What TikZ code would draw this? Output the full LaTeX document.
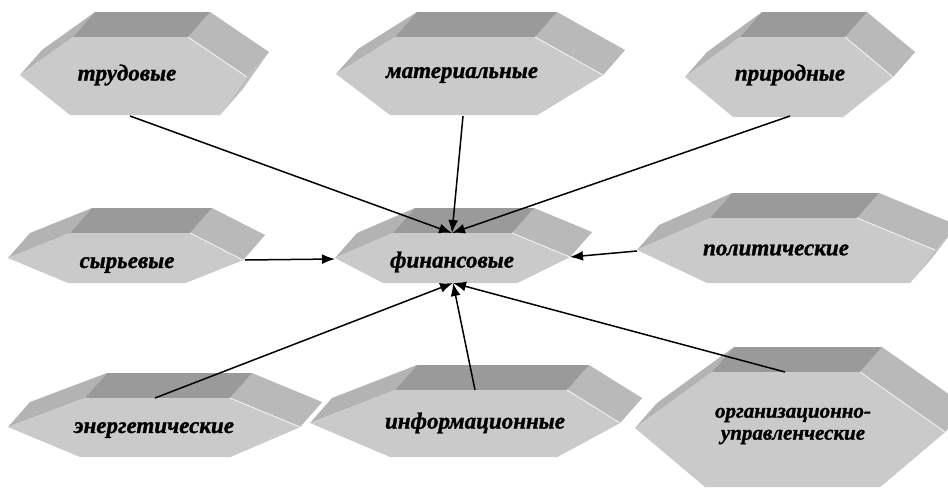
\documentclass[tikz,border=0pt]{standalone}
\usepackage{fontspec}
\setmainfont{Liberation Serif}[BoldItalicFeatures={FakeBold=1.2}]
\usetikzlibrary{calc,arrows.meta}

\definecolor{topgray}{HTML}{9A9A9A}
\definecolor{rightgray}{HTML}{B9B9B9}
\definecolor{leftgray}{HTML}{B3B3B3}
\definecolor{lowgray}{HTML}{BEBEBE}
\definecolor{frontgray}{HTML}{CACACA}

% hexagonal block: front points L, TL, TR, R, BR, BL
\newcommand\hexprism[6]{%
  \coordinate (L) at (#1); \coordinate (TL) at (#2); \coordinate (TR) at (#3);
  \coordinate (R) at (#4); \coordinate (BR) at (#5); \coordinate (BL) at (#6);
  \fill[leftgray] (L) -- (TL) -- ++(22,-25) -- ($(L)+(22,-25)$) -- cycle;
  \fill[lowgray] (R) -- (BR) -- ++(22,-25) -- ($(R)+(22,-25)$) -- cycle;
  \fill[rightgray] (TR) -- (R) -- ++(22,-25) -- ($(TR)+(22,-25)$) -- cycle;
  \fill[topgray] (TL) -- (TR) -- ++(22,-25) -- ($(TL)+(22,-25)$) -- cycle;
  \fill[frontgray] (L) -- (TL) -- (TR) -- (R) -- (BR) -- (BL) -- cycle;
  \draw[white!85!frontgray, line width=0.8pt] (TR) -- (R);
}

\begin{document}
\begin{tikzpicture}[x=1pt,y=-1pt,
    label/.style={font=\bfseries\itshape\fontsize{23}{22}\selectfont, align=center, inner sep=0pt},
    link/.style={-{Latex[length=13pt,width=10pt]}, line width=1.5pt}]
  \useasboundingbox (0,0) rectangle (948,488);

  \hexprism{20,75}{73,37}{188,37}{247,77}{220,115}{70,115}
  \node[label] (trud) at (127,75) {трудовые};
  \hexprism{336,74}{395,37}{535,37}{603,75}{537,115}{390,115}
  \node[label] (mat) at (462,75) {материальные};
  \hexprism{685,77}{740,37}{845,37}{893,77}{843,117}{733,117}
  \node[label] (prir) at (790,75) {природные};

  \hexprism{8,258}{70,233}{190,233}{243,260}{185,283}{68,283}
  \node[label] (syr) at (127,265) {сырьевые};
  \hexprism{335,258}{393,233}{512,233}{570,257}{517,283}{383,283}
  \node[label] (fin) at (452,262) {финансовые};
  \hexprism{637,250}{710,218}{857,218}{935,250}{910,283}{707,283}
  \node[label] (pol) at (776,250) {политические};

  \hexprism{8,427}{85,398}{230,398}{300,427}{230,457}{80,457}
  \node[label] (energ) at (154,430) {энергетические};
  \hexprism{310,423}{395,390}{567,390}{620,423}{557,457}{390,457}
  \node[label] (inf) at (475,423) {информационные};
  \hexprism{635,428}{712,372}{860,372}{945,432}{880,487}{705,487}
  \node[label, font=\bfseries\itshape\fontsize{21}{22}\selectfont] (org) at (793,426) {организационно-\\управленческие};

  \coordinate (fin-top) at (452,233);
  \coordinate (fin-bot) at (453,283);
  \coordinate (fin-l) at (335,259);
  \coordinate (fin-r) at (570,257);
  \coordinate (trud-out) at (130,116);
  \coordinate (mat-out) at (463,116);
  \coordinate (prir-out) at (790,116);
  \coordinate (syr-out) at (245,260);
  \coordinate (pol-out) at (637,251);
  \coordinate (energ-out) at (155,398);
  \coordinate (inf-out) at (475,390);
  \coordinate (org-out) at (785,372);

  \draw[link] (trud-out) -- (fin-top);
  \draw[link] (mat-out) -- (fin-top);
  \draw[link] (prir-out) -- (fin-top);
  \draw[link] (syr-out) -- (fin-l);
  \draw[link] (pol-out) -- (fin-r);
  \draw[link] (energ-out) -- (fin-bot);
  \draw[link] (inf-out) -- (fin-bot);
  \draw[link] (org-out) -- (fin-bot);
\end{tikzpicture}
\end{document}
